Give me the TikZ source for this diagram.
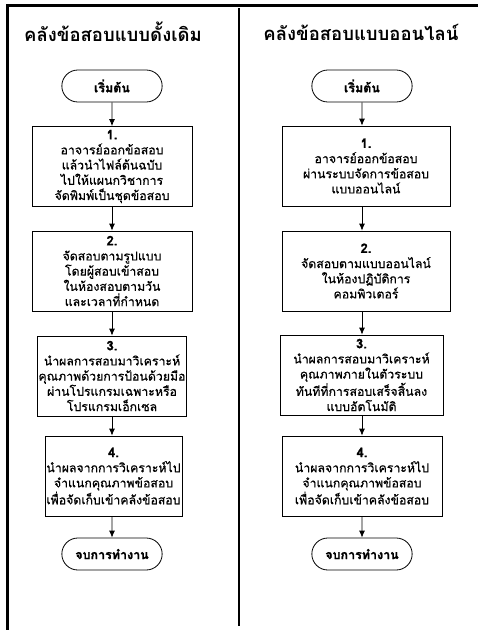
\documentclass[tikz,border=0pt]{standalone}
\usepackage{fontspec}
\newfontfamily\thaifont[Script=Thai]{Loma}
\newfontfamily\thaibody[Script=Thai,FakeBold=0.6]{Loma}
\newfontfamily\thaiheavy[Script=Thai,FakeBold=1.2]{Loma}
\usetikzlibrary{shapes.misc,arrows.meta}

\tikzset{
  stepbox/.style={draw, line width=0.8pt, minimum height=80pt, align=center,
    inner sep=1pt, font=\thaibody\fontsize{12.3}{15.2}\selectfont},
  terminal/.style={draw, rounded rectangle, line width=0.8pt, minimum width=107pt,
    minimum height=32pt, font=\thaiheavy\bfseries\fontsize{12.5}{14}\selectfont},
  heading/.style={font=\thaifont\bfseries\fontsize{18.5}{22}\selectfont},
  flow/.style={line width=0.8pt, -{Latex[length=7pt,width=6pt]}},
  frame/.style={line width=3pt},
}
\newcommand\stepno[1]{{\thaiheavy\bfseries\fontsize{13}{15.2}\selectfont #1}}

\begin{document}
\begin{tikzpicture}[x=1pt, y=-1pt]
\useasboundingbox (0,0) rectangle (478,630);

% frame and column divider
\draw[frame] (7.5,630) |- (478,5.5);
\draw[line width=2.5pt] (239,8) -- (239,626);

% ---- traditional exam bank ----
\node[heading] (t1) at (113,32) {คลังข้อสอบแบบดั้งเดิม};
\node[terminal] (s1) at (112,86) {เริ่มต้น};
\node[stepbox, minimum width=160pt] (a1) at (112,166.5)
  {\stepno{1.}\\อาจารย์ออกข้อสอบ\\แล้วนำไฟล์ต้นฉบับ\\ไปให้แผนกวิชาการ\\จัดพิมพ์เป็นชุดข้อสอบ};
\node[stepbox, minimum width=160pt] (a2) at (112,271)
  {\stepno{2.}\\จัดสอบตามรูปแบบ\\โดยผู้สอบเข้าสอบ\\ในห้องสอบตามวัน\\และเวลาที่กำหนด};
\node[stepbox, minimum width=148pt] (a3) at (112,376)
  {\stepno{3.}\\นำผลการสอบมาวิเคราะห์\\คุณภาพด้วยการป้อนด้วยมือ\\ผ่านโปรแกรมเฉพาะหรือ\\โปรแกรมเอ็กเซล};
\node[stepbox, minimum width=137pt] (a4) at (113.5,476)
  {\stepno{4.}\\นำผลจากการวิเคราะห์ไป\\จำแนกคุณภาพข้อสอบ\\เพื่อจัดเก็บเข้าคลังข้อสอบ};
\node[terminal] (e1) at (112,554) {จบการทำงาน};

\draw[flow] (s1) -- (s1 |- a1.north);
\draw[flow] (a1) -- (a1 |- a2.north);
\draw[flow] (a2) -- (a2 |- a3.north);
\draw[flow] (a3) -- (a3 |- a4.north);
\draw[flow] (a4.south -| e1) -- (e1);

% ---- online exam bank ----
\node[heading] (t2) at (361,32) {คลังข้อสอบแบบออนไลน์};
\node[terminal] (s2) at (362,86) {เริ่มต้น};
\node[stepbox, minimum width=168pt] (b1) at (366,166)
  {\stepno{1.}\\อาจารย์ออกข้อสอบ\\ผ่านระบบจัดการข้อสอบ\\แบบออนไลน์};
\node[stepbox, minimum width=168pt] (b2) at (366,271)
  {\stepno{2.}\\จัดสอบตามแบบออนไลน์\\ในห้องปฏิบัติการ\\คอมพิวเตอร์};
\node[stepbox, minimum width=163pt] (b3) at (361.5,375)
  {\stepno{3.}\\นำผลการสอบมาวิเคราะห์\\คุณภาพภายในตัวระบบ\\ทันทีที่การสอบเสร็จสิ้นลง\\แบบอัตโนมัติ};
\node[stepbox, minimum width=160pt] (b4) at (362,476)
  {\stepno{4.}\\นำผลจากการวิเคราะห์ไป\\จำแนกคุณภาพข้อสอบ\\เพื่อจัดเก็บเข้าคลังข้อสอบ};
\node[terminal] (e2) at (362,554) {จบการทำงาน};

\draw[flow] (s2) -- (s2 |- b1.north);
\draw[flow] (b1.south -| s2) -- (s2 |- b2.north);
\draw[flow] (b2.south -| s2) -- (s2 |- b3.north);
\draw[flow] (b3.south -| s2) -- (s2 |- b4.north);
\draw[flow] (b4.south -| e2) -- (e2);
\end{tikzpicture}
\end{document}
